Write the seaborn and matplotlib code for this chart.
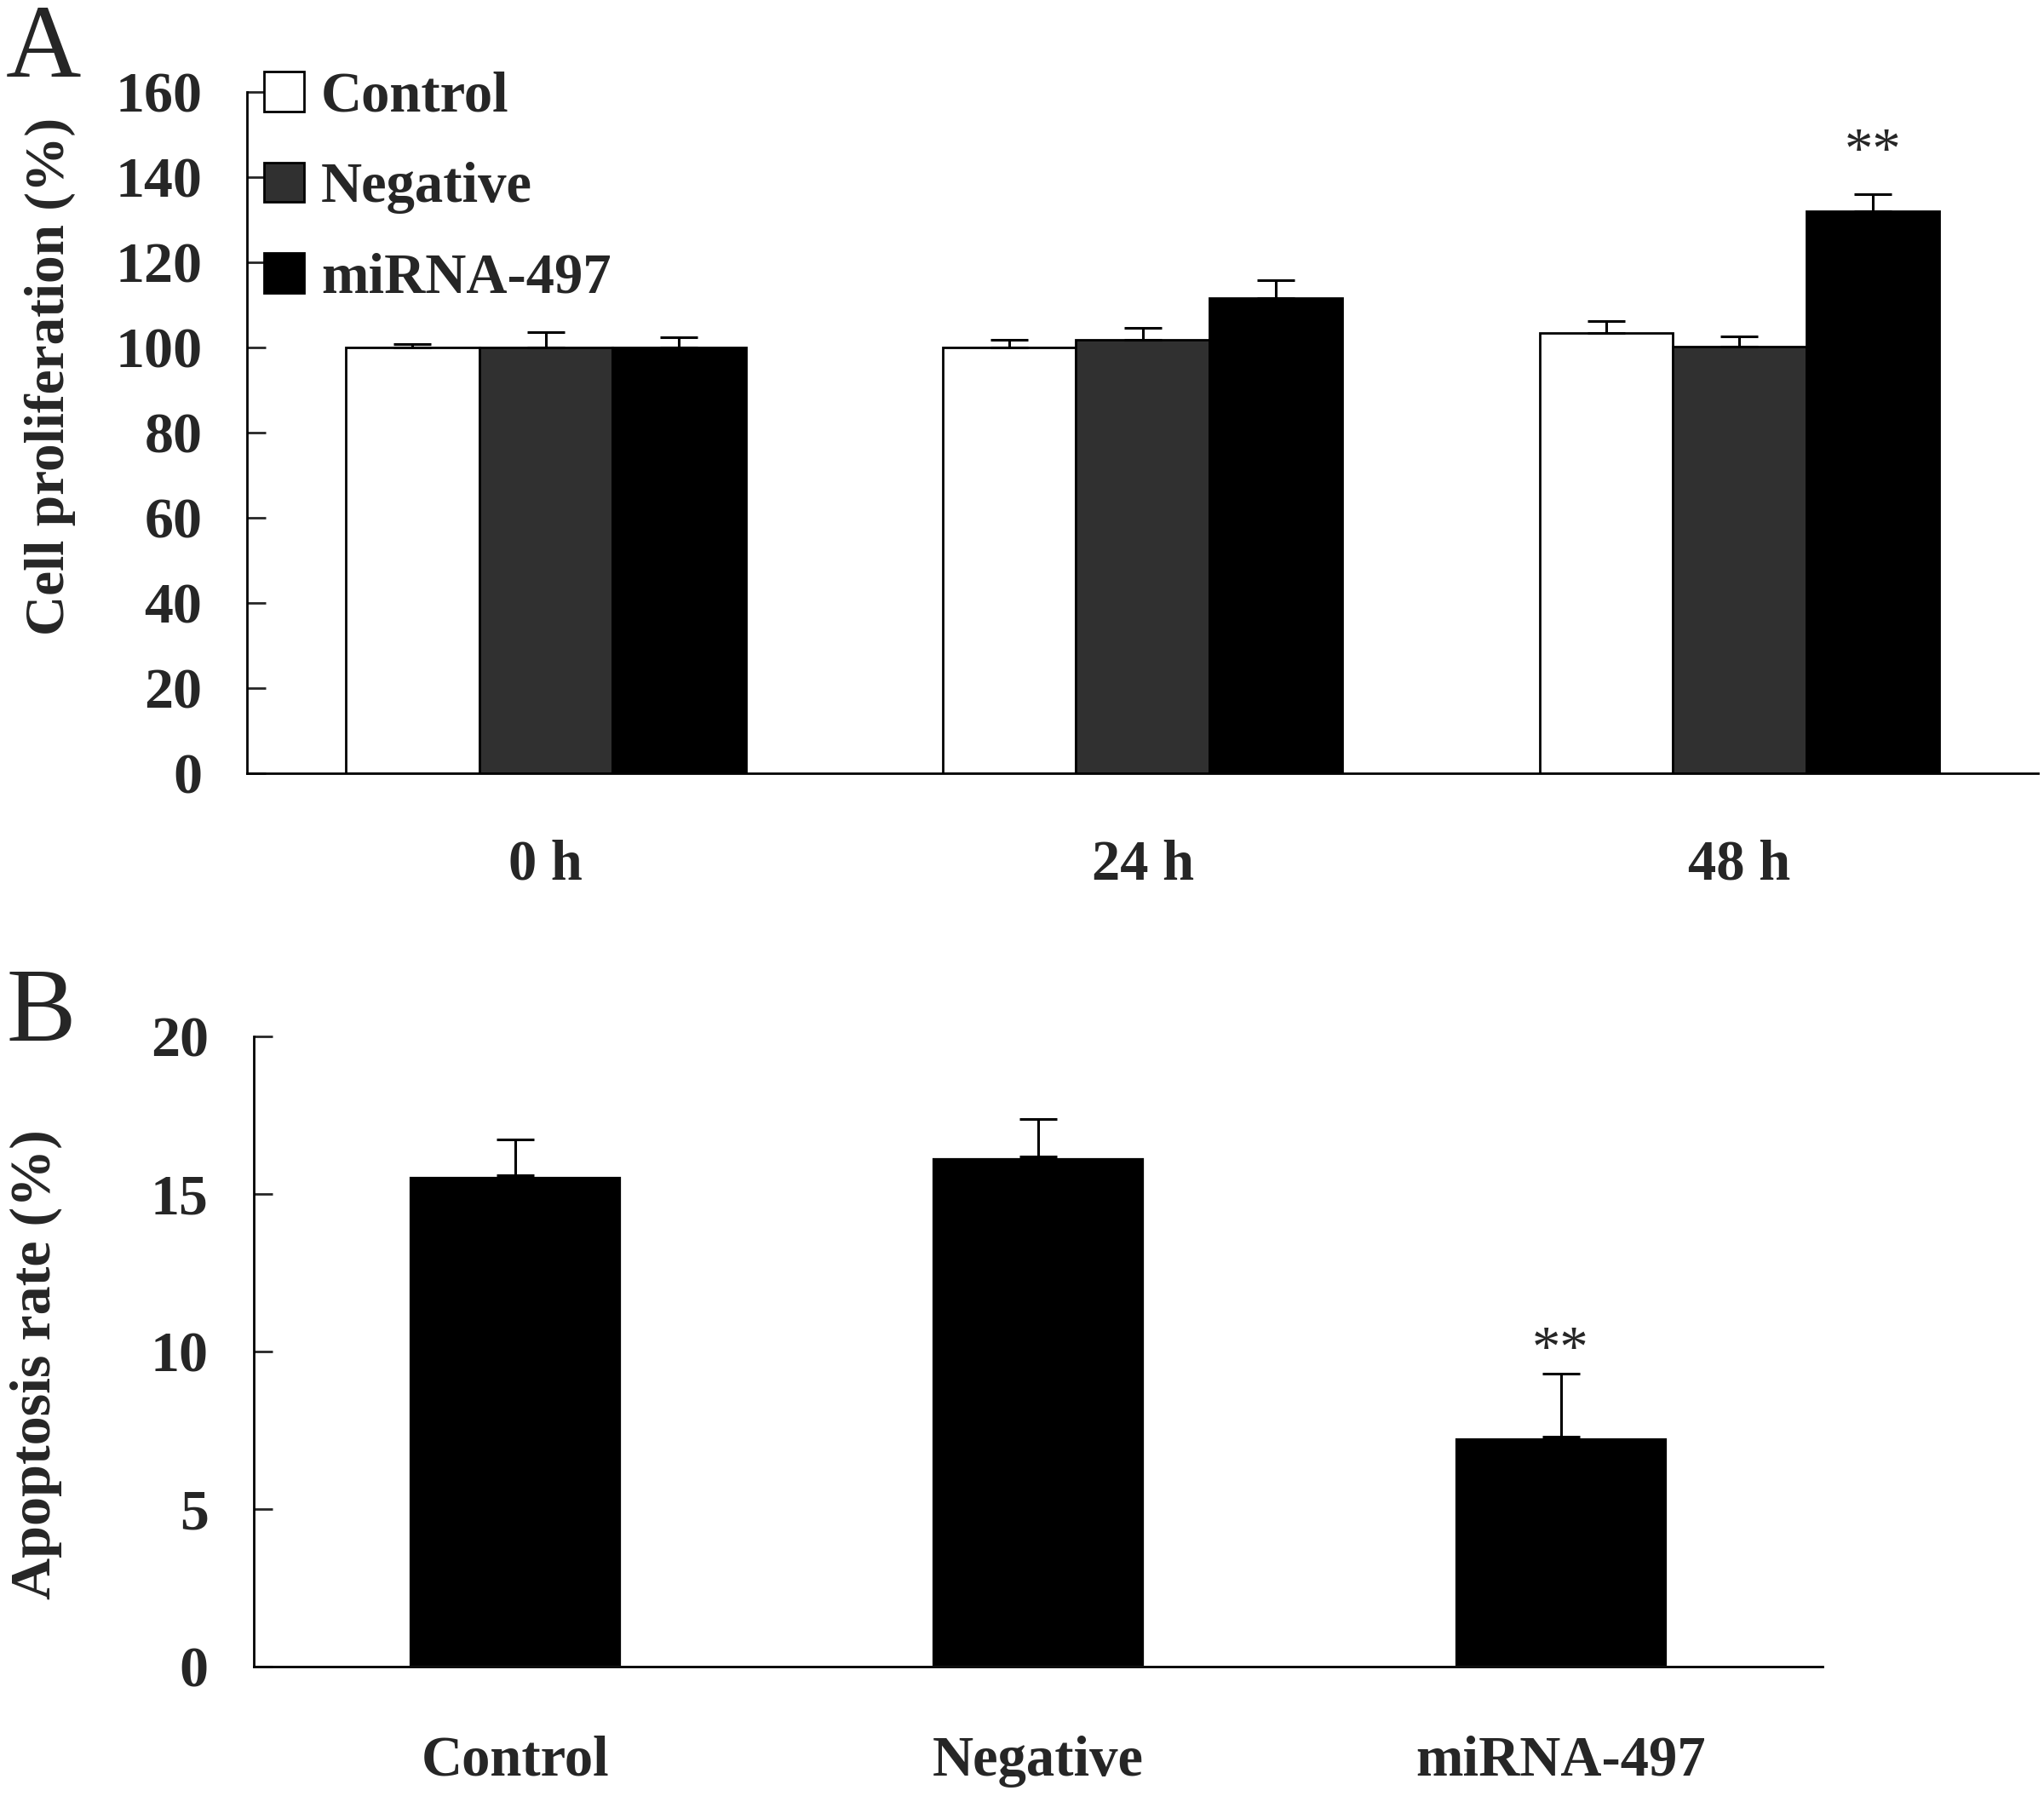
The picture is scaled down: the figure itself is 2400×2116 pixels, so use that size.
import pandas as pd
import seaborn as sns
import matplotlib.pyplot as plt
import numpy as np

sns.set_style("white")
plt.rcParams['font.family'] = ['Liberation Serif', 'DejaVu Serif']
plt.rcParams['font.weight'] = 'bold'

# Panel A - cell proliferation
times = ["0 h", "24 h", "48 h"]
groups = ["Control", "Negative", "miRNA-497"]
control_vals = [100.0, 100.0, 103.3]
negative_vals = [100.0, 101.8, 100.1]
mirna_vals = [100.0, 111.6, 131.9]
control_err = [0.7, 1.8, 2.9]
negative_err = [3.5, 2.7, 2.4]
mirna_err = [2.4, 4.1, 4.0]

# Panel B - apoptosis
apop_groups = ["Control", "Negative", "miRNA-497"]
apop_vals = [15.6, 16.2, 7.3]
apop_err = [1.15, 1.2, 2.0]

colors = {"Control": "white", "Negative": "#303030", "miRNA-497": "black"}

df = pd.DataFrame({
    "time": times * 3,
    "group": [g for g in groups for _ in times],
    "value": control_vals + negative_vals + mirna_vals,
})
errs = {"Control": control_err, "Negative": negative_err, "miRNA-497": mirna_err}

fig = plt.figure(figsize=(12, 10.58), dpi=200)
ax1 = fig.add_axes([0.121, 0.571, 0.876, 0.378])
ax2 = fig.add_axes([0.124, 0.075, 0.7675, 0.3497])

sns.barplot(data=df, x="time", y="value", hue="group", palette=colors,
            width=0.67, gap=0, saturation=1, edgecolor="black", linewidth=1.0,
            errorbar=None, ax=ax1)

# only the upper half of the error bars
for cont, g in zip(ax1.containers, groups):
    xs = [r.get_x() + r.get_width() / 2 for r in cont]
    ys = [r.get_height() for r in cont]
    e = errs[g]
    ax1.errorbar(xs, ys, yerr=[np.zeros(len(e)), e], fmt="none", ecolor="black",
                 elinewidth=1.1, capsize=8, capthick=1.1, zorder=1)

ax1.set_xlim(-0.5, 2.5)
ax1.set_ylim(0, 160)
ax1.set_yticks(range(0, 161, 20))
ax1.set_xticks([0.5, 1.5, 2.5], minor=True)
ax1.tick_params(axis="x", which="major", length=0, pad=28, labelsize=24)
ax1.tick_params(axis="x", which="minor", direction="in", length=9, width=1.0)
ax1.tick_params(axis="y", direction="in", length=8, width=1.0, pad=19, labelsize=24.5, left=True)
ax1.set_xlabel("")
ax1.set_ylabel("Cell proliferation (%)", fontsize=23.5, fontweight="bold")
ax1.yaxis.set_label_coords(-0.096, 0.583)
sns.despine(ax=ax1)
for s in ["left", "bottom"]:
    ax1.spines[s].set_linewidth(1.0)
    ax1.spines[s].set_color("black")

leg = ax1.legend(loc="upper left", bbox_to_anchor=(0.0095, 1.03), frameon=False,
                 fontsize=24, handlelength=0.7, handleheight=0.7, handletextpad=0.3,
                 labelspacing=0.68, borderpad=0, borderaxespad=0)
for h in leg.legend_handles:
    h.set_edgecolor("black")

x48 = ax1.containers[2][2]
ax1.text(x48.get_x() + x48.get_width() / 2, 139.5, "**", ha="center", va="bottom",
         fontsize=24, fontweight="normal")

# Panel B
sns.barplot(x=apop_groups, y=apop_vals, color="black", width=0.41, saturation=1,
            errorbar=None, ax=ax2)
cont = ax2.containers[0]
xs = [r.get_x() + r.get_width() / 2 for r in cont]
ax2.errorbar(xs, apop_vals, yerr=[np.zeros(3), apop_err], fmt="none", ecolor="black",
             elinewidth=1.1, capsize=8, capthick=1.1, zorder=1)
ax2.set_xlim(-0.5, 2.5)
ax2.set_ylim(0, 20)
ax2.set_yticks(range(0, 21, 5))
ax2.set_xticks([0.5, 1.5, 2.5], minor=True)
ax2.tick_params(axis="x", which="major", length=0, pad=29, labelsize=24)
ax2.tick_params(axis="x", which="minor", direction="in", length=9, width=1.0)
ax2.tick_params(axis="y", direction="in", length=8, width=1.0, pad=19, labelsize=24.5, left=True)
ax2.set_ylabel("Apoptosis rate (%)", fontsize=24.5, fontweight="bold")
ax2.yaxis.set_label_coords(-0.122, 0.48)
sns.despine(ax=ax2)
for s in ["left", "bottom"]:
    ax2.spines[s].set_linewidth(1.0)
    ax2.spines[s].set_color("black")
ax2.text(xs[2], 9.2, "**", ha="center", va="bottom", fontsize=24, fontweight="normal")

fig.text(0.003, 0.998, "A", ha="left", va="top", fontsize=44, fontweight="normal")
fig.text(0.003, 0.463, "B", ha="left", va="top", fontsize=44, fontweight="normal")

fig.savefig("out.png", dpi=200)
